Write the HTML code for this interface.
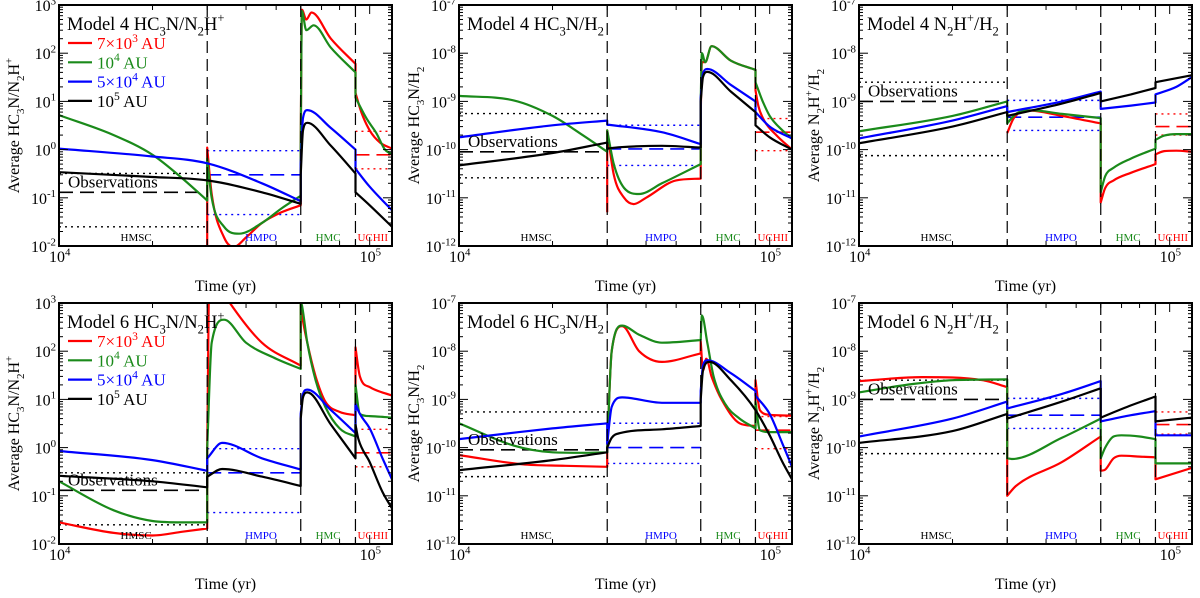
<!DOCTYPE html>
<html><head><meta charset="utf-8">
<style>
html,body{margin:0;padding:0;background:#fff;}
svg{display:block;font-family:"Liberation Serif","DejaVu Serif",serif;}
</style></head>
<body>
<svg id="fig" width="1200" height="598" viewBox="0 0 1200 598" xmlns="http://www.w3.org/2000/svg"></svg>
<script>
// ---------- DATA ----------
const stageNames = ["HMSC","HMPO","HMC","UCHII"];
const stageBounds = [1e4,3e4,6e4,9e4,1.18e5];
const xTickExps = [4,5];
const yTicksTop1 = [-2,-1,0,1,2,3];
const yTicksH2 = [-12,-11,-10,-9,-8,-7];

// Panel 1: Model 4 HC3N/N2H+
const p1BlackT=[1e4,2e4,3e4,4.5e4,6e4,6e4,6.1e4,6.3e4,7.5e4,9e4,9e4,1e5,1.18e5];
const p1BlackV=[0.34,0.27,0.23,0.13,0.075,0.3,2.5,3.6,1.2,0.32,0.13,0.07,0.025];
const p1BlueT=[1e4,2e4,3e4,4.5e4,6e4,6e4,6.1e4,6.3e4,7.5e4,9e4,9e4,1e5,1.18e5];
const p1BlueV=[1.05,0.72,0.52,0.2,0.085,0.5,4.5,6.6,2.8,1.0,0.4,0.17,0.055];
const p1GreenT=[1e4,1.5e4,2e4,2.5e4,3e4,3e4,3.1e4,3.4e4,3.8e4,4.5e4,5.2e4,6e4,6e4,6.05e4,6.25e4,6.6e4,7.5e4,9e4,9e4,9.75e4,1.05e5,1.12e5,1.18e5];
const p1GreenV=[5.2,2,0.78,0.25,0.088,0.65,0.1,0.025,0.018,0.03,0.06,0.11,1,750,300,380,130,40,12,4.5,2.2,1.0,0.8];
const p1RedT=[3e4,3e4,3.1e4,3.4e4,3.65e4,4e4,4.5e4,5.2e4,6e4,6e4,6.05e4,6.25e4,6.5e4,7.5e4,9e4,9e4,9.4e4,1e5,1.08e5,1.18e5];
const p1RedV=[0.003,1.1,0.12,0.015,0.0095,0.015,0.03,0.05,0.07,1,800,500,700,200,60,15,6,2.5,1.4,1.05];
const p1Obs=[[0.025,0.13,0.32],[0.045,0.3,0.95],[0.4,0.78,2.4]];

// Panel 2: Model 4 HC3N/H2
const p2BlackT=[1e4,2e4,3e4,3e4,3.3e4,4.5e4,6e4,6e4,6.1e4,6.3e4,7.5e4,9e4,9e4,1e5,1.18e5];
const p2BlackV=[4.7e-11,8.5e-11,1.4e-10,1.05e-10,1.12e-10,1.2e-10,1.1e-10,1e-9,3.2e-9,4.1e-9,1.6e-9,6e-10,3.2e-10,1.8e-10,1e-10];
const p2BlueT=[1e4,2e4,3e4,3e4,4.5e4,6e4,6e4,6.1e4,6.3e4,7.5e4,9e4,9e4,1e5,1.18e5];
const p2BlueV=[1.8e-10,3.2e-10,4e-10,3.3e-10,2.3e-10,1.3e-10,1.2e-9,3.8e-9,4.7e-9,2.2e-9,1e-9,6e-10,3e-10,1.7e-10];
const p2GreenT=[1e4,1.5e4,2e4,2.5e4,3e4,3e4,3.15e4,3.4e4,3.8e4,4.5e4,6e4,6e4,6.05e4,6.2e4,6.5e4,7.5e4,9e4,9e4,9.5e4,1e5,1.1e5,1.18e5];
const p2GreenV=[1.3e-9,1.05e-9,5e-10,2e-10,9e-11,2.5e-10,5e-11,1.6e-11,1.2e-11,2e-11,5e-11,1e-9,1e-8,6.5e-9,1.4e-8,7e-9,4.5e-9,2.5e-9,1e-9,5e-10,2.5e-10,1.7e-10];
const p2RedT=[3e4,3e4,3.15e4,3.4e4,3.65e4,4e4,5e4,6e4,6e4,6.05e4,6.2e4,6.5e4,7.5e4,9e4,9e4,9.2e4,9.6e4,1.05e5,1.18e5];
const p2RedV=[5e-12,2.5e-10,3e-11,1e-11,7.4e-12,1e-11,2.3e-11,2.5e-11,5e-10,6.5e-9,6.5e-9,1.4e-8,7e-9,4.5e-9,1.7e-9,8e-10,4e-10,2e-10,1e-10];
const p2Obs=[[2.6e-11,9e-11,5.6e-10],[4.7e-11,1.03e-10,3.2e-10],[9.5e-11,2.3e-10,4.4e-10]];

// Panel 3: Model 4 N2H+/H2
const p3BlackT=[1e4,2e4,3e4,3e4,4.5e4,6e4,6e4,7.5e4,9e4,9e4,1.18e5];
const p3BlackV=[1.35e-10,3e-10,6e-10,5e-10,9e-10,1.5e-9,1e-9,1.4e-9,1.9e-9,2.5e-9,3.5e-9];
const p3BlueT=[1e4,2e4,3e4,3e4,4.5e4,6e4,6e4,7.5e4,9e4,9e4,1.05e5,1.18e5];
const p3BlueV=[1.7e-10,4e-10,8e-10,6e-10,1e-9,1.6e-9,7e-10,8.2e-10,9.5e-10,1.4e-9,2e-9,3.2e-9];
const p3GreenT=[1e4,2e4,3e4,3e4,3.2e4,3.6e4,4.5e4,6e4,6e4,6.2e4,6.6e4,7.5e4,9e4,9e4,9.6e4,1.05e5,1.18e5];
const p3GreenV=[2.4e-10,5e-10,1e-9,3.5e-10,5.5e-10,6.5e-10,5.5e-10,4.5e-10,1.3e-11,2.8e-11,4.2e-11,6.5e-11,1.05e-10,1.6e-10,1.95e-10,2.1e-10,2.1e-10];
const p3RedT=[3e4,3.15e4,3.5e4,4.5e4,6e4,6e4,6.2e4,6.6e4,7.5e4,9e4,9e4,9.6e4,1.05e5,1.18e5];
const p3RedV=[2.2e-10,4.5e-10,6.5e-10,5e-10,3.5e-10,8e-12,1.6e-11,2.3e-11,3.3e-11,5e-11,8e-11,9.3e-11,9.5e-11,9e-11];
const p3Obs=[[7.5e-11,1e-9,2.5e-9],[2.5e-10,4.7e-10,1.05e-9],[2e-10,3e-10,5.5e-10]];

// Panel 4: Model 6 HC3N/N2H+
const p4BlackT=[1e4,2e4,3e4,3e4,3.35e4,4.5e4,6e4,6e4,6.1e4,6.3e4,7.5e4,9e4,9e4,9.2e4,1e5,1.1e5,1.18e5];
const p4BlackV=[0.26,0.2,0.15,0.25,0.36,0.25,0.16,4,11,14,3,0.6,3,1.5,0.5,0.12,0.055];
const p4BlueT=[1e4,2e4,3e4,3e4,3.35e4,4.5e4,6e4,6e4,6.1e4,6.3e4,7.5e4,9e4,9e4,9.3e4,1e5,1.1e5,1.18e5];
const p4BlueV=[0.85,0.55,0.33,0.6,1.25,0.6,0.35,5,13,16,6,2,8,5,2.5,0.6,0.22];
const p4GreenT=[1e4,1.5e4,2e4,2.5e4,3e4,3e4,3.1e4,3.4e4,4e4,5e4,6e4,6e4,6.05e4,6.3e4,6.7e4,7.2e4,8e4,9e4,9e4,9.3e4,1e5,1.18e5];
const p4GreenV=[0.2,0.05,0.03,0.028,0.028,1,150,450,150,70,43,1000,900,150,25,7,2.5,1.7,20,5,4.5,4.2];
const p4RedT=[1e4,1.5e4,2e4,2.5e4,3e4,3e4,3.05e4,3.55e4,4.5e4,6e4,6e4,6.05e4,6.3e4,6.7e4,7.2e4,8e4,9e4,9e4,9.3e4,1e5,1.18e5];
const p4RedV=[0.028,0.017,0.015,0.018,0.021,1,5000,1000,150,50,1000,600,150,30,9,5.5,4.7,120,30,18,12];
const p4Obs=[[0.025,0.13,0.3],[0.045,0.3,0.95],[0.4,0.78,2.4]];

// Panel 5: Model 6 HC3N/H2
const p5BlackT=[1e4,2e4,3e4,3e4,3.1e4,3.3e4,4.5e4,6e4,6e4,6.1e4,6.4e4,7.5e4,9e4,1e5,1.1e5,1.18e5];
const p5BlackV=[3.4e-11,5.5e-11,8e-11,1e-10,1.6e-10,2e-10,2.4e-10,2.8e-10,1e-9,4e-9,6e-9,2.5e-9,6e-10,1.8e-10,5e-11,2.2e-11];
const p5BlueT=[1e4,2e4,3e4,3e4,3.1e4,3.35e4,4.5e4,6e4,6e4,6.1e4,6.3e4,7.5e4,9e4,9e4,1e5,1.1e5,1.18e5];
const p5BlueV=[1.5e-10,2.5e-10,3.2e-10,1.2e-10,7e-10,1.1e-9,8.5e-10,8.5e-10,1.5e-9,5e-9,6.5e-9,3.5e-9,1.5e-9,1.2e-9,5e-10,1.2e-10,4e-11];
const p5GreenT=[1e4,1.5e4,2e4,2.5e4,3e4,3e4,3.1e4,3.35e4,3.8e4,4.5e4,6e4,6e4,6.05e4,6.3e4,6.6e4,7.2e4,8e4,9e4,9e4,9.3e4,1e5,1.18e5];
const p5GreenV=[3.2e-10,1.1e-10,8e-11,7.8e-11,8e-11,1e-10,1e-8,3.4e-8,2.2e-8,1.5e-8,1.7e-8,1.7e-8,5.5e-8,1.5e-8,3e-9,8e-10,4e-10,2.5e-10,9e-10,2.3e-10,2.1e-10,2.1e-10];
const p5RedT=[1e4,1.6e4,2.2e4,3e4,3e4,3.1e4,3.35e4,3.8e4,4.5e4,6e4,6e4,6.1e4,6.25e4,6.5e4,7e4,8e4,9e4,9e4,9.3e4,1e5,1.18e5];
const p5RedV=[7e-11,4.5e-11,4.2e-11,4e-11,1e-10,1e-8,3.3e-8,1e-8,6e-9,9e-9,1.6e-8,4e-9,7e-9,3e-9,1e-9,3.2e-10,2.8e-10,2.5e-9,6e-10,4.8e-10,4.6e-10];
const p5Obs=[[2.5e-11,9e-11,5.5e-10],[4.7e-11,1e-10,3.2e-10],[9.5e-11,2.3e-10,4.4e-10]];

// Panel 6: Model 6 N2H+/H2
const p6BlackT=[1e4,2e4,3e4,3e4,4.5e4,6e4,6e4,7.5e4,9e4,9e4,1.18e5];
const p6BlackV=[1.25e-10,2.2e-10,5e-10,4e-10,9e-10,1.7e-9,4.2e-10,7.5e-10,1.15e-9,3.5e-10,4.2e-10];
const p6BlueT=[1e4,2e4,3e4,3e4,4.5e4,6e4,6e4,7.5e4,9e4,9e4,1.18e5];
const p6BlueV=[1.7e-10,4e-10,9e-10,6.5e-10,1.3e-9,2.4e-9,3.5e-10,4.7e-10,5.7e-10,1.8e-10,1.8e-10];
const p6GreenT=[1e4,1.5e4,2e4,3e4,3e4,3.1e4,4.5e4,6e4,6e4,6.2e4,6.6e4,7e4,8e4,9e4,9e4,1.18e5];
const p6GreenV=[1.4e-9,2.1e-9,2.5e-9,2.6e-9,6e-11,5.8e-11,1.6e-10,4e-10,6e-11,1e-10,1.7e-10,1.8e-10,1.7e-10,1.5e-10,4.7e-11,4.7e-11];
const p6RedT=[1e4,1.6e4,2.5e4,3e4,3e4,3.2e4,4.5e4,6e4,6e4,6.2e4,6.6e4,7e4,8e4,9e4,9e4,1.18e5];
const p6RedV=[2.4e-9,2.9e-9,2.5e-9,1.8e-9,1e-11,1.6e-11,5e-11,1.7e-10,3.3e-11,3.5e-11,6e-11,6.8e-11,6.5e-11,6.3e-11,2.2e-11,3.8e-11];
const p6Obs=[[7.5e-11,1e-9,2.5e-9],[2.5e-10,4.7e-10,1.05e-9],[1.9e-10,3e-10,5.5e-10]];

const legendLabels=["7\u00d710^3 AU","10^4 AU","5\u00d710^4 AU","10^5 AU"];
const RED="#ff0000",GREEN="#1a8a1a",BLUE="#0000ff",BLACK="#000000";

// ---------- RENDER ----------
const NS="http://www.w3.org/2000/svg";
const svg=document.getElementById('fig');
function mk(tag,attrs,parent){const e=document.createElementNS(NS,tag);for(const k in attrs)e.setAttribute(k,attrs[k]);(parent||svg).appendChild(e);return e;}
function rich(parent,str,size){
  let i=0;let buf="";
  function flush(){if(buf){const t=mk('tspan',{},parent);t.textContent=buf;buf="";}}
  while(i<str.length){
    const c=str[i];
    if(c==='_'||c==='^'){
      flush();
      let j=i+1;let tok=str[j];j++;
      if(tok==='-'){while(j<str.length&&/[0-9]/.test(str[j])){tok+=str[j];j++;}}
      else if(/[0-9]/.test(tok)){while(j<str.length&&/[0-9]/.test(str[j])){tok+=str[j];j++;}}
      const dy=c==='_'?size*0.3:-size*0.42;
      const t=mk('tspan',{dy:dy,'font-size':size*0.68},parent);t.textContent=tok;
      const b=mk('tspan',{dy:-dy,'font-size':size},parent);b.textContent="\u200b";
      i=j;
    } else {buf+=c;i++;}
  }
  flush();
}
// monotone cubic path through pixel points; breaks at equal x (vertical jumps)
function smoothPath(pts){
  let d='';
  let segs=[];let cur=[pts[0]];
  for(let i=1;i<pts.length;i++){
    if(Math.abs(pts[i][0]-pts[i-1][0])<0.01){segs.push(cur);cur=[pts[i]];}
    else cur.push(pts[i]);
  }
  segs.push(cur);
  segs.forEach((s,si)=>{
    d+=(si===0?'M':'L')+s[0][0].toFixed(1)+','+s[0][1].toFixed(1);
    const n=s.length;if(n<2)return;
    const dl=[],m=[];
    for(let i=0;i<n-1;i++)dl.push((s[i+1][1]-s[i][1])/(s[i+1][0]-s[i][0]));
    m[0]=dl[0];m[n-1]=dl[n-2];
    for(let i=1;i<n-1;i++){m[i]=(dl[i-1]*dl[i]<=0)?0:(dl[i-1]+dl[i])/2;}
    for(let i=0;i<n-1;i++){
      if(dl[i]===0){m[i]=0;m[i+1]=0;continue;}
      const a=m[i]/dl[i],b=m[i+1]/dl[i],h=a*a+b*b;
      if(h>9){const t=3/Math.sqrt(h);m[i]=t*a*dl[i];m[i+1]=t*b*dl[i];}
    }
    for(let i=0;i<n-1;i++){
      const h=(s[i+1][0]-s[i][0])/3;
      d+=' C'+(s[i][0]+h).toFixed(1)+','+(s[i][1]+m[i]*h).toFixed(1)+' '+(s[i+1][0]-h).toFixed(1)+','+(s[i+1][1]-m[i+1]*h).toFixed(1)+' '+s[i+1][0].toFixed(1)+','+s[i+1][1].toFixed(1);
    }
  });
  return d;
}
const panels=[
 {c:0,r:0,ymin:-2,ymax:3,ticks:yTicksTop1,title:"Model 4 HC_3N/N_2H^+",ylab:"Average HC_3N/N_2H^+",legend:true,obs:p1Obs,
  series:[[p1RedT,p1RedV,RED],[p1GreenT,p1GreenV,GREEN],[p1BlueT,p1BlueV,BLUE],[p1BlackT,p1BlackV,BLACK]]},
 {c:1,r:0,ymin:-12,ymax:-7,ticks:yTicksH2,title:"Model 4 HC_3N/H_2",ylab:"Average HC_3N/H_2",legend:false,obs:p2Obs,
  series:[[p2RedT,p2RedV,RED],[p2GreenT,p2GreenV,GREEN],[p2BlueT,p2BlueV,BLUE],[p2BlackT,p2BlackV,BLACK]]},
 {c:2,r:0,ymin:-12,ymax:-7,ticks:yTicksH2,title:"Model 4 N_2H^+/H_2",ylab:"Average N_2H^+/H_2",legend:false,obs:p3Obs,
  series:[[p3RedT,p3RedV,RED],[p3GreenT,p3GreenV,GREEN],[p3BlueT,p3BlueV,BLUE],[p3BlackT,p3BlackV,BLACK]]},
 {c:0,r:1,ymin:-2,ymax:3,ticks:yTicksTop1,title:"Model 6 HC_3N/N_2H^+",ylab:"Average HC_3N/N_2H^+",legend:true,obs:p4Obs,
  series:[[p4RedT,p4RedV,RED],[p4GreenT,p4GreenV,GREEN],[p4BlueT,p4BlueV,BLUE],[p4BlackT,p4BlackV,BLACK]]},
 {c:1,r:1,ymin:-12,ymax:-7,ticks:yTicksH2,title:"Model 6 HC_3N/H_2",ylab:"Average HC_3N/H_2",legend:false,obs:p5Obs,
  series:[[p5RedT,p5RedV,RED],[p5GreenT,p5GreenV,GREEN],[p5BlueT,p5BlueV,BLUE],[p5BlackT,p5BlackV,BLACK]]},
 {c:2,r:1,ymin:-12,ymax:-7,ticks:yTicksH2,title:"Model 6 N_2H^+/H_2",ylab:"Average N_2H^+/H_2",legend:false,obs:p6Obs,
  series:[[p6RedT,p6RedV,RED],[p6GreenT,p6GreenV,GREEN],[p6BlueT,p6BlueV,BLUE],[p6BlackT,p6BlackV,BLACK]]}
];
const seriesNames=["series-7e3-au","series-1e4-au","series-5e4-au","series-1e5-au"];
const obsColors=[BLACK,BLUE,RED];
const tmin=1e4,tmax=1.18e5;

panels.forEach((p,pi)=>{
  const X0=59+400*p.c,X1=392+400*p.c,Y0=5+298*p.r,Y1=246+298*p.r;
  const sx=t=>X0+(Math.log10(t)-Math.log10(tmin))/(Math.log10(tmax)-Math.log10(tmin))*(X1-X0);
  const sy=v=>Y1-(Math.log10(v)-p.ymin)/(p.ymax-p.ymin)*(Y1-Y0);
  const g=mk('g',{});
  
  
  const cid='clip'+pi;
  const cp=mk('clipPath',{id:cid},g);mk('rect',{x:X0,y:Y0,width:X1-X0,height:Y1-Y0},cp);
  const plot=mk('g',{'clip-path':'url(#'+cid+')'},g);
  p.obs.forEach((o,si)=>{
    const stIdx=si===2?3:si;
    const ta=stageBounds[stIdx],tb=stageBounds[stIdx+1];
    o.forEach((v,k)=>{
      const l=mk('line',{x1:sx(ta),x2:sx(tb),y1:sy(v),y2:sy(v),stroke:obsColors[si],'stroke-width':k===1?1.6:1.4,'stroke-dasharray':k===1?'14,7':'2,4'},plot);
      
      
    });
  });
  p.series.forEach((s,si)=>{
    const [T,V,col]=s;
    const pts=T.map((t,i)=>[sx(t),sy(V[i])]);
    const path=mk('path',{d:smoothPath(pts),fill:'none',stroke:col,'stroke-width':2.2,'stroke-linejoin':'round'},plot);
    
    
  });
  [1,2,3].forEach(k=>{
    const l=mk('line',{x1:sx(stageBounds[k]),x2:sx(stageBounds[k]),y1:Y0,y2:Y1,stroke:'#000','stroke-width':1.2,'stroke-dasharray':'12,6'},g);
    
    
  });
  const stCols=[BLACK,BLUE,GREEN,RED];const stOff=[3,7,0,-1];
  stageNames.forEach((n,k)=>{
    const cx=(sx(stageBounds[k])+sx(stageBounds[k+1]))/2+stOff[k];
    const t=mk('text',{x:cx,y:Y1-5,'text-anchor':'middle','font-size':11,fill:stCols[k]},g);
    t.textContent=n;
    
    
  });
  const fr=mk('rect',{x:X0,y:Y0,width:X1-X0,height:Y1-Y0,fill:'none',stroke:'#000','stroke-width':2},g);
  
  
  for(let dec=4;dec<=5;dec++)for(let m=1;m<10;m++){
    const t=m*Math.pow(10,dec);if(t<tmin||t>tmax)continue;
    const x=sx(t),len=m===1?9:5;
    mk('line',{x1:x,x2:x,y1:Y1,y2:Y1-len,stroke:'#000','stroke-width':1},g);
    mk('line',{x1:x,x2:x,y1:Y0,y2:Y0+len,stroke:'#000','stroke-width':1},g);
  }
  xTickExps.forEach(e=>{
    const t=mk('text',{x:sx(Math.pow(10,e))-10,y:Y1+16,'font-size':16},g);
    rich(t,'10^'+e,16);
    
    
  });
  for(let e=p.ymin;e<=p.ymax;e++){
    const y=sy(Math.pow(10,e));
    mk('line',{x1:X0,x2:X0+9,y1:y,y2:y,stroke:'#000','stroke-width':1},g);
    mk('line',{x1:X1,x2:X1-9,y1:y,y2:y,stroke:'#000','stroke-width':1},g);
    if(e<p.ymax)for(let m=2;m<10;m++){const ym=sy(m*Math.pow(10,e));
      mk('line',{x1:X0,x2:X0+4,y1:ym,y2:ym,stroke:'#000','stroke-width':1},g);
      mk('line',{x1:X1,x2:X1-4,y1:ym,y2:ym,stroke:'#000','stroke-width':1},g);}
  }
  p.ticks.forEach(e=>{
    const t=mk('text',{x:X0-3,y:sy(Math.pow(10,e))+6,'text-anchor':'end','font-size':16},g);
    rich(t,'10^'+e,16);
    
    
  });
  const xt=mk('text',{x:(X0+X1)/2,y:Y1+45,'text-anchor':'middle','font-size':16},g);
  xt.textContent='Time (yr)';
  
  
  const yt=mk('text',{x:0,y:0,'text-anchor':'middle','font-size':16,transform:'translate('+(X0-40)+','+((Y0+Y1)/2)+') rotate(-90)'},g);
  rich(yt,p.ylab,16);
  
  
  const tt=mk('text',{x:X0+8,y:Y0+25,'font-size':18.5},g);
  rich(tt,p.title,18.5);
  
  
  const ob=mk('text',{x:X0+9,y:sy(p.obs[0][1])-5,'font-size':17},g);
  ob.textContent='Observations';
  
  
  if(p.legend){
    const cols=[RED,GREEN,BLUE,BLACK];
    legendLabels.forEach((lab,k)=>{
      const y=Y0+38+k*19.3;
      const lg=mk('g',{},g);
      
      
      mk('line',{x1:X0+9,x2:X0+33,y1:y,y2:y,stroke:cols[k],'stroke-width':2.2},lg);
      const t=mk('text',{x:X0+38,y:y+6,'font-size':17,fill:cols[k]},lg);
      rich(t,lab,17);
    });
  }
});
</script>
</body></html>
